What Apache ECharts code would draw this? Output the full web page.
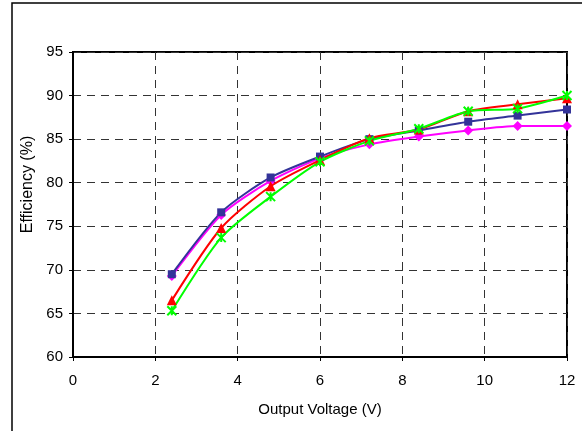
<!DOCTYPE html>
<html>
<head>
<meta charset="utf-8">
<script src="https://cdn.jsdelivr.net/npm/echarts@6/dist/echarts.min.js"></script>
<style>
  html, body { margin: 0; padding: 0; background: #fff; }
  #chart { width: 582px; height: 431px; }
</style>
</head>
<body>
<div id="chart"></div>
<script>
// Output voltage sample points (V)
const voltage = [2.4, 3.6, 4.8, 6.0, 7.2, 8.4, 9.6, 10.8, 12.0];

// Efficiency curves (%)
const effBlue    = [69.5, 76.6, 80.6, 83.0, 85.0, 86.0, 87.0, 87.7, 88.4];
const effMagenta = [69.3, 76.3, 80.2, 82.8, 84.4, 85.3, 86.0, 86.5, 86.5];
const effRed     = [66.5, 74.8, 79.6, 82.6, 85.1, 86.1, 88.2, 89.0, 89.7];
const effGreen   = [65.3, 73.7, 78.4, 82.4, 84.8, 86.2, 88.2, 88.5, 90.0];

const xTicks = [0, 2, 4, 6, 8, 10, 12];
const yTicks = [60, 65, 70, 75, 80, 85, 90, 95];

const pairs = ys => voltage.map((v, i) => [v, ys[i]]);
const FONT = '"Liberation Sans", Arial, sans-serif';

function lineSeries(ys, color, symbol, size, extra) {
  return Object.assign({
    type: 'line',
    data: pairs(ys),
    smooth: 0.25,
    symbol: symbol,
    symbolSize: size,
    showSymbol: true,
    lineStyle: { color: color, width: 2 },
    itemStyle: { color: color, borderColor: color, borderWidth: 0 },
    animation: false
  }, extra || {});
}

const chart = echarts.init(document.getElementById('chart'), null, { renderer: 'canvas' });
chart.setOption({
  backgroundColor: '#ffffff',
  animation: false,
  graphic: [{
    type: 'rect',
    shape: { x: 12, y: 3, width: 600, height: 460 },
    style: { fill: 'none', stroke: '#000', lineWidth: 1.5 },
    silent: true,
    z: 0
  }],
  grid: {
    left: 73, top: 52, right: 15, bottom: 74,
    show: true,
    borderColor: '#000', borderWidth: 2,
    backgroundColor: 'transparent'
  },
  xAxis: {
    type: 'value',
    min: xTicks[0], max: xTicks[xTicks.length - 1], interval: 2,
    name: 'Output Voltage (V)',
    nameLocation: 'middle',
    nameGap: 45,
    nameTextStyle: { fontFamily: FONT, fontSize: 15, color: '#000' },
    axisLine: { show: true, onZero: false, lineStyle: { color: '#000', width: 2 } },
    axisTick: { show: true, length: 4, lineStyle: { color: '#000' } },
    axisLabel: { fontFamily: FONT, fontSize: 15, color: '#000', margin: 16 },
    splitLine: { show: true, lineStyle: { color: '#333', type: [8, 6], width: 1 } }
  },
  yAxis: {
    type: 'value',
    min: yTicks[0], max: yTicks[yTicks.length - 1], interval: 5,
    name: 'Efficiency (%)',
    nameLocation: 'middle',
    nameGap: 29,
    nameRotate: 90,
    nameTextStyle: { fontFamily: FONT, fontSize: 16, color: '#000', padding: [0, 0, 0, 40] },
    axisLine: { show: true, lineStyle: { color: '#000', width: 2 } },
    axisTick: { show: true, length: 4, lineStyle: { color: '#000' } },
    axisLabel: { fontFamily: FONT, fontSize: 15, color: '#000', margin: 10 },
    splitLine: { show: true, lineStyle: { color: '#333', type: [8, 6], width: 1 } }
  },
  series: [
    lineSeries(effMagenta, '#ff00ff', 'diamond', 10),
    lineSeries(effBlue, '#333399', 'rect', 8),
    lineSeries(effRed, '#ff0000', 'triangle', 10),
    lineSeries(effGreen, '#00ff00', 'path://M0,0L10,10M10,0L0,10M5,0L5,10', 9, {
      itemStyle: { color: 'none', borderColor: '#00ff00', borderWidth: 2 }
    })
  ]
});
</script>
</body>
</html>
